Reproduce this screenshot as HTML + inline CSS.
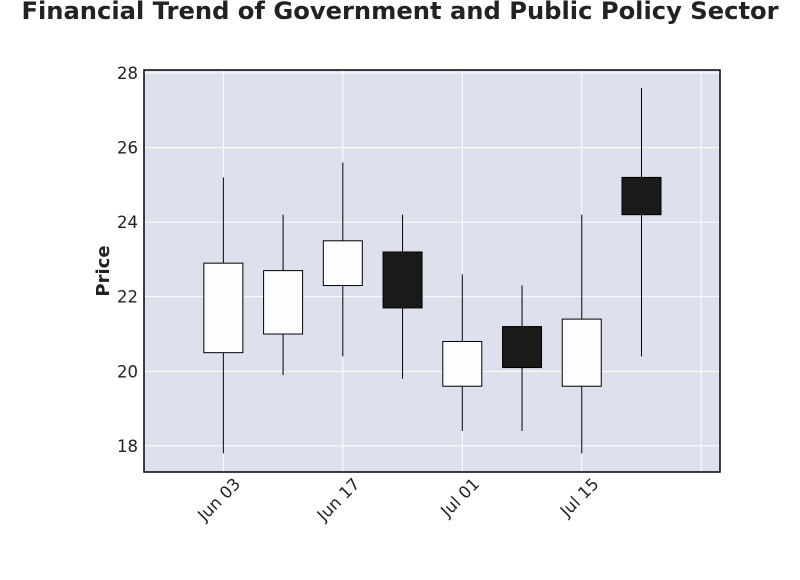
<!DOCTYPE html>
<html><head><meta charset="utf-8"><style>
body{margin:0;background:#fff;font-family:"Liberation Sans","DejaVu Sans",sans-serif;}
</style></head><body>
<svg width="800" height="575" xmlns="http://www.w3.org/2000/svg">
<text x="400" y="19" text-anchor="middle" font-size="24.2" font-weight="bold" fill="#222" font-family="DejaVu Sans, Liberation Sans, sans-serif">Financial Trend of Government and Public Policy Sector</text>
<rect x="144" y="70" width="576" height="402" fill="#dce1ed"/>
<g id="grid"></g>
<g id="candles"></g>
<rect x="144" y="70" width="576" height="402" fill="none" stroke="#000" stroke-width="1.5"/>
<g id="ticks"></g>
<text transform="translate(109,271) rotate(-90)" text-anchor="middle" font-size="18" font-weight="bold" fill="#222" font-family="DejaVu Sans, Liberation Sans, sans-serif">Price</text>
</svg>
<script>
const dates=[0,7,14,21,28,35,42,49];
const opens=[20.5,21.0,22.3,23.2,19.6,21.2,19.6,25.2];
const closes=[22.9,22.7,23.5,21.7,20.8,20.1,21.4,24.2];
const highs=[25.2,24.2,25.6,24.2,22.6,22.3,24.2,27.6];
const lows=[17.8,19.9,20.4,19.8,18.4,18.4,17.8,20.4];
const yTicks=[18,20,22,24,26,28];
const xTickDays=[0,14,28,42,56];
const xTickLabels=["Jun 03","Jun 17","Jul 01","Jul 15",""];
const NS="http://www.w3.org/2000/svg";
const X0=144,X1=720,Y0=70,Y1=472;
const dMin=-9.3,dMax=58.2,vMin=17.30,vMax=28.08;
function xs(d){return X0+(d-dMin)/(dMax-dMin)*(X1-X0);}
function ys(v){return Y1-(v-vMin)/(vMax-vMin)*(Y1-Y0);}
function mk(tag,attrs,parent){const e=document.createElementNS(NS,tag);for(const k in attrs)e.setAttribute(k,attrs[k]);parent.appendChild(e);return e;}
const grid=document.getElementById('grid'),ticks=document.getElementById('ticks'),cg=document.getElementById('candles');
yTicks.forEach(v=>{
 const l=mk('line',{x1:X0,x2:X1,y1:ys(v),y2:ys(v),stroke:'#fff','stroke-width':1},grid);
 
 
 const t=mk('text',{x:X0-6,y:ys(v)+6,'text-anchor':'end','font-size':16.5,fill:'#222','font-family':'DejaVu Sans, Liberation Sans, sans-serif'},ticks);
 t.textContent=v;
 
 
});
xTickDays.forEach((d,i)=>{
 const l=mk('line',{x1:xs(d),x2:xs(d),y1:Y0,y2:Y1,stroke:'#fff','stroke-width':1},grid);
 
 
 if(xTickLabels[i]){
 const x=xs(d)+18,y=Y1+13;
 const t=mk('text',{x:x,y:y,'text-anchor':'end','font-size':16.5,fill:'#222','font-family':'DejaVu Sans, Liberation Sans, sans-serif',transform:`rotate(-45 ${x} ${y})`},ticks);
 t.textContent=xTickLabels[i];
 
 
 }
});
const bw=39;
dates.forEach((d,i)=>{
 const x=xs(d),up=closes[i]>=opens[i];
 const w=mk('line',{x1:x,x2:x,y1:ys(highs[i]),y2:ys(lows[i]),stroke:'#000','stroke-width':1},cg);
 
 
 const top=ys(Math.max(opens[i],closes[i])),bot=ys(Math.min(opens[i],closes[i]));
 const r=mk('rect',{x:x-bw/2,y:top,width:bw,height:bot-top,fill:up?'#fdfdff':'#1a1a1a',stroke:'#000','stroke-width':1},cg);
 
 
});
</script>
</body></html>
